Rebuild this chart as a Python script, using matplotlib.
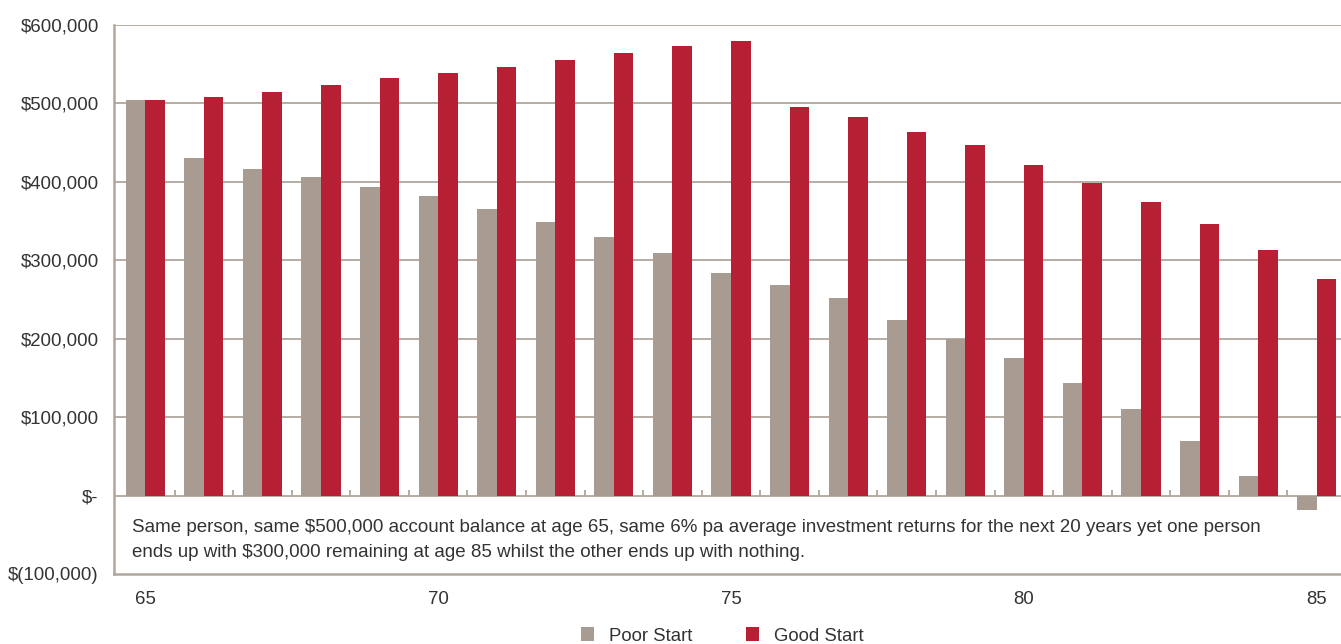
import matplotlib.pyplot as plt
from matplotlib.patches import Patch

plt.rcParams["font.family"] = ["Liberation Sans", "DejaVu Sans"]

# Data
ages = list(range(65, 86))
poor_start = [504000, 430000, 417000, 406000, 394000, 382000, 365000, 349000, 330000, 309000,
              284000, 268000, 252000, 224000, 200000, 176000, 144000, 111000, 70000, 25000, -19000]
good_start = [504000, 508000, 515000, 523000, 532000, 539000, 547000, 556000, 564000, 573000,
              580000, 495000, 483000, 463000, 447000, 422000, 398000, 374000, 346000, 313000, 276000]
y_ticks = [-100000, 0, 100000, 200000, 300000, 400000, 500000, 600000]
y_tick_labels = ["$(100,000)", "$-", "$100,000", "$200,000", "$300,000",
                 "$400,000", "$500,000", "$600,000"]
x_label_ages = [65, 70, 75, 80, 85]
note = ("Same person, same $500,000 account balance at age 65, same 6% pa average investment returns "
        "for the next 20 years yet one person\nends up with $300,000 remaining at age 85 whilst "
        "the other ends up with nothing.")

GRAY = "#a89c92"
RED = "#b71f34"
LINE = "#b0a69d"
TEXT = "#333333"
W, H = 1341, 644

fig = plt.figure(figsize=(W / 100, H / 100), dpi=100)
ax = fig.add_axes([114 / W, (H - 574) / H, (1344 - 114) / W, (574 - 25) / H])

# ------------------------------------------------------------------
# Bars
# ------------------------------------------------------------------
idx = list(range(len(ages)))
bw = 0.334
ax.bar([i - bw / 2 for i in idx], poor_start, width=bw, color=GRAY, zorder=3)
ax.bar([i + bw / 2 for i in idx], good_start, width=bw, color=RED, zorder=3)

# first group sits a touch right of the spine in the original
ax.set_xlim(-0.534, len(ages) - 0.534)
ax.set_ylim(-100000, 600000)

# Gridlines + zero line
for v in y_ticks[1:]:
    ax.axhline(v, color=LINE, linewidth=1.3, zorder=1)

# Small category separators standing on the zero line
ax.vlines([i + 0.5 for i in idx[:-1]], 0, 7500, color=LINE, linewidth=1.3, zorder=2)

# ------------------------------------------------------------------
# Axes styling
# ------------------------------------------------------------------
for side in ["top", "right"]:
    ax.spines[side].set_visible(False)
for side in ["left", "bottom"]:
    ax.spines[side].set_color(LINE)
    ax.spines[side].set_linewidth(1.8)

ax.set_yticks(y_ticks)
ax.set_yticklabels(y_tick_labels)
ax.set_xticks([ages.index(a) for a in x_label_ages])
ax.set_xticklabels([str(a) for a in x_label_ages])
ax.tick_params(axis="y", length=0, pad=11, labelsize=13.4, labelcolor=TEXT)
ax.tick_params(axis="x", length=0, pad=12, labelsize=13.4, labelcolor=TEXT)

ax.text(18 / 1230, (574 - 519) / 549, note, transform=ax.transAxes, ha="left", va="top",
        fontsize=13.5, color=TEXT, linespacing=1.6)

# ------------------------------------------------------------------
# Legend
# ------------------------------------------------------------------
handles = [Patch(facecolor=GRAY, edgecolor="none"), Patch(facecolor=RED, edgecolor="none")]
fig.legend(handles, ["Poor Start", "Good Start"], loc="center", ncol=2, frameon=False,
           bbox_to_anchor=(722 / W, 1 - 636 / H), fontsize=13.4, labelcolor=TEXT,
           handlelength=0.7, handleheight=0.7, handletextpad=0.8, columnspacing=2.9,
           borderpad=0)

fig.savefig("out.png", dpi=100)
plt.close(fig)
